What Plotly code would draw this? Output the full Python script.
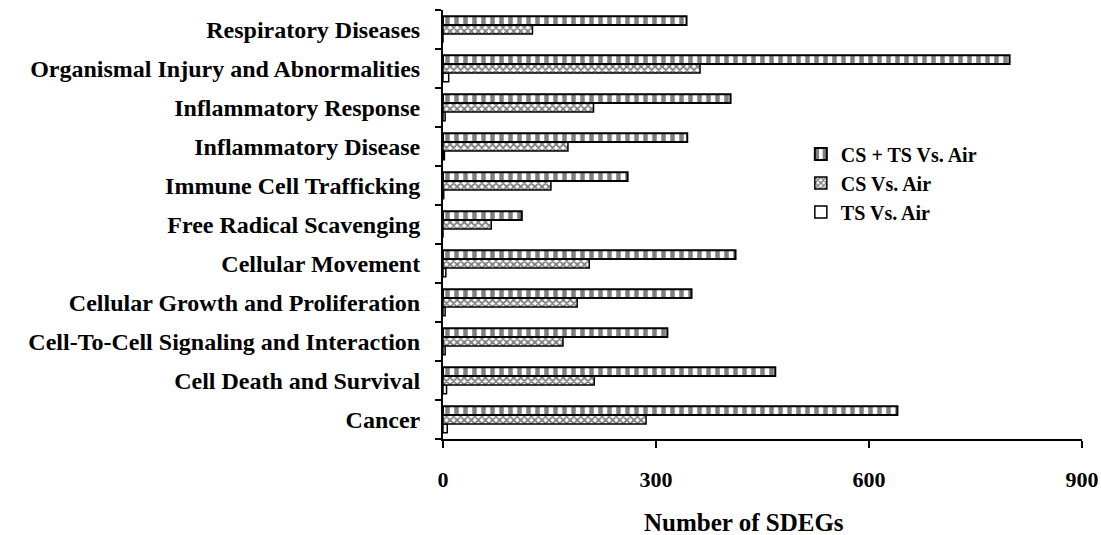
import plotly.graph_objects as go

# Functional categories (bottom to top on the chart)
categories = [
    "Cancer",
    "Cell Death and Survival",
    "Cell-To-Cell Signaling and Interaction",
    "Cellular Growth and Proliferation",
    "Cellular Movement",
    "Free Radical Scavenging",
    "Immune Cell Trafficking",
    "Inflammatory Disease",
    "Inflammatory Response",
    "Organismal Injury and Abnormalities",
    "Respiratory Diseases",
]

# Number of significantly differentially expressed genes per comparison
cs_ts_vs_air = [640, 468, 316, 350, 412, 111, 260, 344, 405, 798, 343]
cs_vs_air = [286, 213, 169, 189, 206, 68, 152, 176, 212, 362, 126]
ts_vs_air = [6, 5, 3, 3, 4, 0, 1, 2, 3, 8, 0]

x_ticks = [0, 300, 600, 900]

FONT = "Liberation Serif"

fig = go.Figure()

# Traces added bottom-up so that CS + TS sits on top of each group
fig.add_trace(go.Bar(
    name="TS Vs. Air", y=categories, x=ts_vs_air, orientation="h",
    marker=dict(color="white", line=dict(color="black", width=1.5)),
))
fig.add_trace(go.Bar(
    name="CS Vs. Air", y=categories, x=cs_vs_air, orientation="h",
    marker=dict(color="white", line=dict(color="black", width=1.5),
                pattern=dict(shape="x", size=5, solidity=0.6,
                             fgcolor="black", bgcolor="white")),
))
fig.add_trace(go.Bar(
    name="CS + TS Vs. Air", y=categories, x=cs_ts_vs_air, orientation="h",
    marker=dict(color="white", line=dict(color="black", width=2),
                pattern=dict(shape="|", size=9, solidity=0.5,
                             fgcolor="black", bgcolor="white")),
))

fig.update_layout(
    width=1101, height=535,
    margin=dict(l=443, r=19, t=10, b=96, autoexpand=False),
    paper_bgcolor="white", plot_bgcolor="white",
    barmode="group", bargap=0.32, bargroupgap=0,
    font=dict(family=FONT, color="black"),
    legend=dict(
        x=0.56, y=0.71, xanchor="left", yanchor="top",
        traceorder="reversed",
        font=dict(family=FONT, size=20, color="black", weight="bold"),
        itemwidth=30, tracegroupgap=0,
        bgcolor="rgba(0,0,0,0)",
    ),
    showlegend=True,
    annotations=[dict(
        text="Number of SDEGs", xref="paper", yref="paper",
        x=0.471, y=-0.195, xanchor="center", yanchor="middle",
        showarrow=False,
        font=dict(family=FONT, size=25, color="black", weight="bold"),
    )],
)

fig.update_xaxes(
    range=[0, 900], tickvals=x_ticks, ticktext=[str(v) for v in x_ticks],
    automargin=False,
    showline=True, linecolor="black", linewidth=2,
    ticks="outside", ticklen=7, tickwidth=2, tickcolor="black",
    showgrid=False, zeroline=False,
    tickfont=dict(family=FONT, size=22, color="black", weight="bold"),
    ticklabelstandoff=13,
)

fig.update_yaxes(
    categoryorder="array", categoryarray=categories,
    automargin=False,
    showline=True, linecolor="black", linewidth=2,
    ticks="outside", ticklen=6, tickwidth=2, tickcolor="black",
    tickson="boundaries",
    showgrid=False, zeroline=False,
    tickfont=dict(family=FONT, size=24, color="black", weight="bold"),
    ticklabelstandoff=16,
)

fig.write_html("out.html")
